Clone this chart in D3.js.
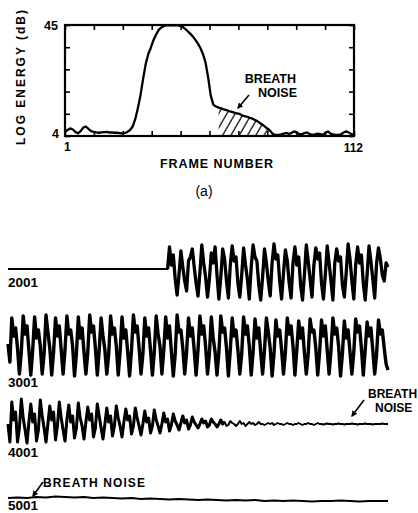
<!DOCTYPE html>
<html>
<head>
<meta charset="utf-8">
<script src="https://cdnjs.cloudflare.com/ajax/libs/d3/7.8.5/d3.min.js"></script>
<style>
  body { margin: 0; background: #fff; }
  svg { display: block; }
  text { font-family: "Liberation Sans", Arial, sans-serif; font-weight: bold; fill: #000; }
</style>
</head>
<body>
<script>
// (a) log energy per frame, frames 1..112 (dB)
const logEnergy = [
  5.5, 6.2, 6.8, 6.4, 5.5, 5.0, 5.8, 7.1, 7.5, 6.6,
  5.8, 5.5, 5.3, 5.2, 5.3, 5.4, 5.5, 5.3, 5.3, 5.2,
  5.2, 5.1, 5.0, 5.1, 5.5, 6.2, 7.5, 10.3, 14.3, 19.1,
  25.1, 30.6, 34.3, 36.7, 39.5, 41.5, 43.2, 44.1, 44.6, 44.9,
  44.9, 44.9, 44.9, 44.9, 44.8, 44.5, 43.7, 42.8, 41.9, 40.9,
  39.6, 38.2, 36.5, 34.3, 31.0, 25.5, 18.8, 15.5, 14.9, 14.5,
  14.2, 13.8, 13.6, 13.2, 12.9, 12.6, 12.4, 12.2, 11.6, 11.3,
  11.1, 10.7, 10.4, 9.9, 9.4, 8.7, 8.1, 7.3, 6.6, 5.7,
  4.6, 4.4, 4.4, 4.6, 4.9, 5.1, 4.8, 5.1, 5.7, 5.3,
  4.7, 4.7, 5.1, 5.3, 4.7, 4.4, 4.6, 4.9, 4.7, 4.4,
  5.1, 5.7, 4.9, 4.6, 4.4, 4.4, 4.6, 5.3, 5.7, 5.3,
  4.7, 4.4
];
const breathFrames = [60, 81];
const frameDomain = [1, 112];
const energyDomain = [4, 45];
const frameTicks = [1, 12.1, 23.2, 34.3, 45.4, 56.5, 67.6, 78.7, 89.8, 100.9, 112];
const energyTicks = [4, 12.2, 20.4, 28.6, 36.8, 45];
const frameTickLabels = ["1", "112"];
const energyTickLabels = ["4", "45"];

// waveform rows: sample offsets inside each 1000-sample row
const rowLabels = ["2001", "3001", "4001", "5001"];
const rowStarts = [420, 0, 0, 0];
const rowSteps = [5, 5, 5, 25];

const wave2001 = [
  0, 22, 4, 14, -10, -26,
  -6, 18, 2, -12, -22,
  8, 12, 20, 2, -14, -27,
  -4, 24, 6, -8, -28,
  -10, 16, 6, 22, -6, -30,
  -8, 20, 10, -12, -29,
  4, 23, 8, 12, -14, -28,
  -6, 21, 4, -10, -30,
  2, 24, 12, 8, -16, -31,
  -8, 20, 6, -12, -27,
  6, 25, 10, 14, -12, -30,
  -4, 19, 8, -14, -29,
  6, 22, 4, 12, -16, -31,
  -6, 24, 8, -10, -28,
  4, 21, 10, 16, -14, -30,
  -6, 23, 6, -12, -31,
  6, 20, 8, 12, -16, -28,
  -4, 25, 10, -12, -30,
  4, 22, 6, 14, -14, -31,
  -6, 23, 8, -10, -29,
  6, 21, 10, -6, -12, 6, 2
];

const wave3001 = [
  0, -18,
  26, 8, 16, -4, -30, -8,
  28, 10, 18, -6, -31, -6,
  27, 6, 14, -2, -30, -10,
  29, 12, -4, -31, -8,
  26, 8, 18, -6, -30, -6,
  28, 10, 14, -2, -32, -10,
  27, 6, 16, -8, -30, -8,
  29, 12, 18, -4, -31, -6,
  26, 8, -6, -30, -10,
  28, 10, 16, -2, -31, -8,
  27, 6, 14, -8, -32, -6,
  29, 12, 18, -4, -30, -10,
  26, 8, 16, -6, -31, -8,
  28, 10, -2, -30, -6,
  27, 6, 18, -8, -32, -10,
  29, 12, 14, -4, -30, -8,
  26, 8, 16, -6, -31, -6,
  28, 10, 18, -2, -30, -10,
  27, 6, -8, -31, -8,
  28, 12, 16, -4, -32, -6,
  26, 8, 14, -6, -30, -10,
  27, 10, 18, -2, -31, -8,
  25, 6, 16, -8, -30, -6,
  26, 12, -4, -32, -10,
  24, 8, 14, -6, -30, -8,
  26, 10, 18, -2, -31, -6,
  23, 6, 16, -8, -30, -10,
  25, 12, 14, -4, -31, -8,
  24, 8, 18, -6, -30, -6,
  26, 10, 16, -2, -32, -10,
  23, 6, 14, -8, -30, -8,
  25, 12, 18, -4, -31, -6,
  22, 8, 16, -6, -30, -10,
  24, 10, 14, -4, -20, -26
];

const wave4001 = [
  0, -18,
  22, 4, 12, -18, -4,
  25, 6, -6, -19, 2,
  20, 2, 10, -17, -6,
  24, 8, -4, -18, 0,
  18, 4, 12, -16, -2,
  22, 6, -6, -17, 4,
  19, 2, 8, -14, -4,
  21, 6, -2, -15, 2,
  17, 4, 10, -13, -4,
  20, 8, -4, -15, 0,
  16, 2, 8, -12, -2,
  18, 6, -2, -13, 2,
  15, 4, 8, -10, -2,
  16, 6, -2, -11, 0,
  13, 2, 6, -9, -2,
  14, 4, -2, -9, 0,
  11, 2, 5, -7, -1,
  10, 3, -1, -6, 1,
  8, 1, 4, -5, -1,
  7, 2, -1, -4, 0,
  5, 1, 3, -3, -1,
  5, 2, 0, -3, 0,
  4, 0, 2, -2, -1,
  3, 1, 0, -2, 0,
  3, 0, 1, -2, 0,
  2, 0, 1, -1, 0,
  2, 0, 0, -1, 0,
  1, 0, 1, -1, 0,
  1, 0, 0, -1, 0,
  1, 0, 0, -1, 0,
  0, 1, 0, -1, 0, 0, 1, 0, 0, -1,
  0, 1, 0, 0, -0.5, 0, 0.5, 0, 0, -0.5,
  0, 0, 0.5, 0, 0, -0.5, 0, 0, 0, 0.5,
  0, 0, -0.5, 0, 0, 0, 0.5, 0, 0, 0,
  -0.5, 0, 0, 0, 0, 0.5, 0, 0, 0
];

const wave5001 = [
  1, 1.5, 1, 2, 1.5, 2.5, 2, 1.5, 2, 1,
  1.5, 1, 0.5, 1, 0, 0.5, 0, -0.5, 0, -0.5,
  -1, -0.5, -1, -1.5, -1, -1.5, -1, -2, -1.5, -2,
  -1.5, -2, -2.5, -2, -2, -1.5, -2, -2.5, -2, -2,
  -2
];

const waves = [wave2001, wave3001, wave4001, wave5001];

let svg = null;
let x, y = null;        // energy plot scales
let xs, ys = null;      // waveform scales

const plot = {left: 65, right: 354, top: 25, bottom: 136};
const rowBaselines = [269, 344, 424, 499];
const labelBaselines = [287, 387, 457, 510];
// heavy pen for the voiced stretch, thin pen for silence / noise
const heavyStroke = [3.3, 3.4, 3.0, 0];
const heavyCount = [Infinity, Infinity, 115, 0];
const thinStroke = 1.9;

appendSvg("body");
setupScales();
appendEnergyPlot();
appendBreathHatch();
appendEnergyLabels();
appendWaveforms();
appendWaveAnnotations();

function appendSvg(domElement) {
  svg = d3.select(domElement).append("svg")
    .attr("width", 418)
    .attr("height", 513);

  const defs = svg.append("defs");
  defs.append("marker")
    .attr("id", "arrow")
    .attr("viewBox", "0 0 10 10")
    .attr("refX", 8).attr("refY", 5)
    .attr("markerWidth", 6).attr("markerHeight", 6)
    .attr("markerUnits", "userSpaceOnUse")
    .attr("orient", "auto")
    .append("path")
    .attr("d", "M0,0 L10,5 L0,10 z")
    .attr("fill", "#000");

  const pat = defs.append("pattern")
    .attr("id", "hatch")
    .attr("patternUnits", "userSpaceOnUse")
    .attr("width", 8.3).attr("height", 20)
    .attr("patternTransform", "skewX(-30)");
  pat.append("line")
    .attr("x1", 2).attr("x2", 2)
    .attr("y1", -2).attr("y2", 22)
    .attr("stroke", "#000")
    .attr("stroke-width", 1.4);
}

function setupScales() {
  x = d3.scaleLinear().domain(frameDomain).range([plot.left, plot.right]);
  y = d3.scaleLinear().domain(energyDomain).range([plot.bottom, plot.top]);

  xs = d3.scaleLinear().domain([0, 1000]).range([8, 388]);
  ys = d3.scaleLinear().domain([-40, 40]).range([40, -40]);
}

function appendEnergyPlot() {
  const g = svg.append("g");

  // inward ticks on all four sides
  g.append("g").attr("transform", `translate(0,${plot.bottom})`)
    .call(d3.axisTop(x).tickValues(frameTicks).tickSize(5).tickFormat(""));
  g.append("g").attr("transform", `translate(0,${plot.top})`)
    .call(d3.axisBottom(x).tickValues(frameTicks).tickSize(5).tickFormat(""));
  g.append("g").attr("transform", `translate(${plot.left},0)`)
    .call(d3.axisRight(y).tickValues(energyTicks).tickSize(5).tickFormat(""));
  g.append("g").attr("transform", `translate(${plot.right},0)`)
    .call(d3.axisLeft(y).tickValues(energyTicks).tickSize(5).tickFormat(""));
  g.selectAll(".domain").remove();
  g.selectAll(".tick line").attr("stroke", "#000").attr("stroke-width", 1.6);

  g.append("rect")
    .attr("x", x(frameDomain[0]))
    .attr("y", y(energyDomain[1]))
    .attr("width", x(frameDomain[1]) - x(frameDomain[0]))
    .attr("height", y(energyDomain[0]) - y(energyDomain[1]))
    .attr("fill", "none")
    .attr("stroke", "#000")
    .attr("stroke-width", 2.2);

  const line = d3.line()
    .x((d, i) => x(i + 1))
    .y(d => y(d));

  g.append("path")
    .datum(logEnergy)
    .attr("d", line)
    .attr("fill", "none")
    .attr("stroke", "#000")
    .attr("stroke-width", 2.3)
    .attr("stroke-linejoin", "round");
}

function appendBreathHatch() {
  const seg = logEnergy
    .map((v, i) => ({f: i + 1, v: v}))
    .filter(d => d.f >= breathFrames[0] && d.f <= breathFrames[1]);

  const area = d3.area()
    .x(d => x(d.f))
    .y0(y(energyDomain[0]))
    .y1(d => y(d.v));

  svg.append("path")
    .datum(seg)
    .attr("d", area)
    .attr("fill", "url(#hatch)");

  svg.append("text").attr("x", 296).attr("y", 83)
    .attr("text-anchor", "end").style("font-size", "12.5px").text("BREATH");
  svg.append("text").attr("x", 297).attr("y", 97)
    .attr("text-anchor", "end").style("font-size", "12.5px").text("NOISE");
  svg.append("line")
    .attr("x1", 249).attr("y1", 95).attr("x2", 238).attr("y2", 108)
    .attr("stroke", "#000").attr("stroke-width", 1.6)
    .attr("marker-end", "url(#arrow)");
}

function appendEnergyLabels() {
  svg.append("text").attr("x", 58).attr("y", 30)
    .attr("text-anchor", "end").style("font-size", "12.5px").text(energyTickLabels[1]);
  svg.append("text").attr("x", 59).attr("y", 138)
    .attr("text-anchor", "end").style("font-size", "12.5px").text(energyTickLabels[0]);
  svg.append("text").attr("x", x(frameDomain[0]) - 1).attr("y", 151)
    .style("font-size", "12px").text(frameTickLabels[0]);
  svg.append("text").attr("x", x(frameDomain[1]) + 9).attr("y", 152)
    .attr("text-anchor", "end").style("font-size", "12px").text(frameTickLabels[1]);

  svg.append("text")
    .attr("x", 160).attr("y", 168)
    .attr("textLength", 113).attr("lengthAdjust", "spacing")
    .style("font-size", "12.5px")
    .text("FRAME NUMBER");

  svg.append("text")
    .attr("transform", "translate(25,145) rotate(-90)")
    .attr("textLength", 135).attr("lengthAdjust", "spacing")
    .style("font-size", "12px")
    .text("LOG ENERGY (dB)");

  svg.append("text")
    .attr("x", 204).attr("y", 196)
    .attr("text-anchor", "middle")
    .style("font-size", "14px").style("font-weight", "normal")
    .text("(a)");
}

function appendWaveforms() {
  waves.forEach((vals, r) => {
    const pts = vals.map((v, i) => [rowStarts[r] + i * rowSteps[r], v]);
    const all = rowStarts[r] > 0 ? [[0, 0]].concat(pts) : pts;

    const line = d3.line()
      .x(d => xs(d[0]))
      .y(d => ys(d[1]));

    const g = svg.append("g").attr("transform", `translate(0,${rowBaselines[r]})`);
    g.append("path")
      .datum(all)
      .attr("d", line)
      .attr("fill", "none")
      .attr("stroke", "#000")
      .attr("stroke-width", thinStroke)
      .attr("stroke-linejoin", "round");

    if (heavyCount[r] > 0) {
      g.append("path")
        .datum(pts.slice(0, heavyCount[r]))
        .attr("d", line)
        .attr("fill", "none")
        .attr("stroke", "#000")
        .attr("stroke-width", heavyStroke[r])
        .attr("stroke-linejoin", "round");
    }

    svg.append("text")
      .attr("x", 8).attr("y", labelBaselines[r])
      .style("font-size", "13.5px")
      .text(rowLabels[r]);
  });
}

function appendWaveAnnotations() {
  svg.append("text").attr("x", 368).attr("y", 398)
    .style("font-size", "12px").text("BREATH");
  svg.append("text").attr("x", 375).attr("y", 412)
    .style("font-size", "12px").text("NOISE");
  svg.append("line")
    .attr("x1", 364).attr("y1", 400).attr("x2", 352).attr("y2", 416)
    .attr("stroke", "#000").attr("stroke-width", 1.6)
    .attr("marker-end", "url(#arrow)");

  svg.append("text").attr("x", 43).attr("y", 487)
    .attr("textLength", 102).attr("lengthAdjust", "spacing")
    .style("font-size", "12px").text("BREATH NOISE");
  svg.append("line")
    .attr("x1", 43).attr("y1", 482).attr("x2", 33).attr("y2", 496)
    .attr("stroke", "#000").attr("stroke-width", 1.6)
    .attr("marker-end", "url(#arrow)");
}
</script>
</body>
</html>
